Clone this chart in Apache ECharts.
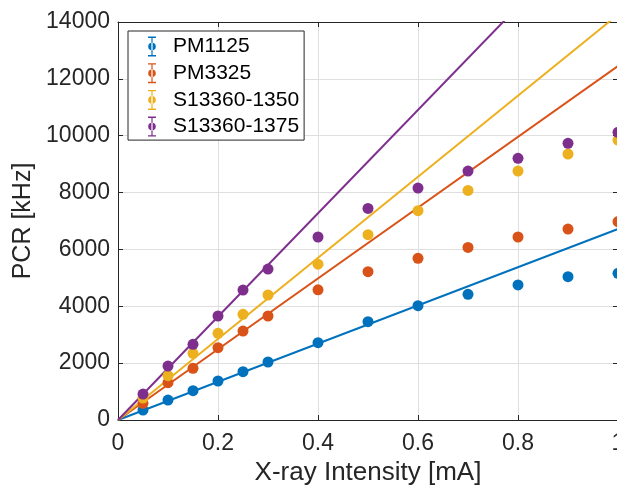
<!DOCTYPE html>
<html lang="en">
<head>
    <meta charset="UTF-8">
    <title>PCR vs X-ray Intensity</title>
    <style type="text/css">
        body{margin:0;background:#fff;}
        #main{width:617px;height:488px;}
    </style>
</head>
<body>
<div id="main"></div>
<script src="https://cdn.jsdelivr.net/npm/echarts@6/dist/echarts.min.js"></script>
<script>
    // x-ray tube current [mA]
    var intensity = [0.05, 0.1, 0.15, 0.2, 0.25, 0.3, 0.4, 0.5, 0.6, 0.7, 0.8, 0.9, 1.0];

    var names = ['PM1125', 'PM3325', 'S13360-1350', 'S13360-1375'];
    var colors = ['#0072BD', '#D95319', '#EDB120', '#7E2F8E'];

    // measured PCR [kHz]
    var pm1125 = [352, 703, 1031, 1372, 1700, 2040, 2720, 3460, 4020, 4420, 4750, 5040, 5160];
    var pm3325 = [586, 1313, 1817, 2544, 3130, 3658, 4580, 5217, 5686, 6072, 6437, 6718, 6975];
    var s1350 = [770, 1558, 2345, 3048, 3716, 4397, 5480, 6518, 7362, 8077, 8758, 9356, 9848];
    var s1375 = [914, 1899, 2662, 3658, 4572, 5311, 6437, 7444, 8160, 8758, 9204, 9732, 10118];

    // linear fit: value at 0 mA and at 1 mA
    var fitX = [0, 1];
    var fit1125 = [0, 6720];
    var fit3325 = [0, 12450];
    var fit1350 = [0, 14260];
    var fit1375 = [0, 18180];

    var xTicks = [0, 0.2, 0.4, 0.6, 0.8, 1];
    var yTicks = [0, 2000, 4000, 6000, 8000, 10000, 12000, 14000];

    var measured = [pm1125, pm3325, s1350, s1375];
    var fits = [fit1125, fit3325, fit1350, fit1375];

    // legend icon: error bar with a dot
    var errIcon = 'path://M0 0L8 0L8 1.4L4.6 1.4L4.6 18.6L8 18.6L8 20L0 20L0 18.6L3.4 18.6L3.4 1.4L0 1.4Z' +
        'M0.2 10A3.8 3.8 0 1 0 7.8 10A3.8 3.8 0 1 0 0.2 10Z';

    function pairs(xs, ys) {
        var res = [];
        for (var i = 0; i < xs.length; i++) {
            res.push([xs[i], ys[i]]);
        }
        return res;
    }

    var txt = '#262626';
    var font = 'Liberation Sans, Arial, Helvetica, sans-serif';

    var series = [];
    for (var k = 0; k < names.length; k++) {
        series.push({
            name: 'fit ' + names[k],
            type: 'line',
            data: pairs(fitX, fits[k]),
            symbol: 'none',
            clip: true,
            silent: true,
            lineStyle: {color: colors[k], width: 2},
            z: 2
        });
    }
    for (var k = 0; k < names.length; k++) {
        series.push({
            name: names[k],
            type: 'scatter',
            data: pairs(intensity, measured[k]),
            symbol: 'circle',
            symbolSize: 11,
            itemStyle: {color: colors[k], opacity: 1},
            z: 3
        });
    }

    var myChart = echarts.init(document.getElementById('main'));

    var option = {
        animation: false,
        backgroundColor: '#fff',
        grid: {left: 118, right: -1, top: 22, bottom: 68, outerBoundsMode: 'none', containLabel: false},
        legend: {
            data: names,
            orient: 'vertical',
            left: 128,
            top: 31,
            padding: [5, 5, 3, 20],
            itemWidth: 8,
            itemHeight: 20,
            itemGap: 5.7,
            icon: errIcon,
            backgroundColor: '#fff',
            borderColor: txt,
            borderWidth: 1,
            borderRadius: 0,
            formatter: '{t|{name}}',
            textStyle: {
                color: '#000', fontSize: 21, fontFamily: font,
                rich: {t: {color: '#000', fontSize: 21, fontFamily: font, padding: [0, 0, 0, 12]}}
            }
        },
        xAxis: [{
            type: 'value',
            min: xTicks[0],
            max: xTicks[xTicks.length - 1],
            interval: 0.2,
            name: 'X-ray Intensity [mA]',
            nameLocation: 'middle',
            nameGap: 40,
            nameTextStyle: {color: txt, fontSize: 26, fontFamily: font},
            axisLine: {show: true, onZero: false, lineStyle: {color: txt, width: 1}},
            axisTick: {show: true, inside: true, length: 5, lineStyle: {color: txt}},
            axisLabel: {color: txt, fontSize: 23, fontFamily: font, margin: 12,
                formatter: function (v) { return String(+v.toFixed(1)); }},
            splitLine: {show: true, lineStyle: {color: '#dfdfdf', width: 1}}
        }, {
            type: 'value',
            position: 'top',
            min: xTicks[0],
            max: xTicks[xTicks.length - 1],
            interval: 0.2,
            axisLine: {show: true, onZero: false, lineStyle: {color: txt, width: 1}},
            axisTick: {show: true, inside: true, length: 5, lineStyle: {color: txt}},
            axisLabel: {show: false},
            splitLine: {show: false}
        }],
        yAxis: [{
            type: 'value',
            min: yTicks[0],
            max: yTicks[yTicks.length - 1],
            interval: 2000,
            name: 'PCR [kHz]',
            nameLocation: 'middle',
            nameGap: 72,
            nameTextStyle: {color: txt, fontSize: 25, fontFamily: font},
            axisLine: {show: true, onZero: false, lineStyle: {color: txt, width: 1}},
            axisTick: {show: true, inside: true, length: 5, lineStyle: {color: txt}},
            axisLabel: {color: txt, fontSize: 23, fontFamily: font, margin: 8,
                formatter: function (v) { return String(v); }},
            splitLine: {show: true, lineStyle: {color: '#dfdfdf', width: 1}}
        }, {
            type: 'value',
            position: 'right',
            min: yTicks[0],
            max: yTicks[yTicks.length - 1],
            interval: 2000,
            axisLine: {show: true, onZero: false, lineStyle: {color: txt, width: 1}},
            axisTick: {show: true, inside: true, length: 5, lineStyle: {color: txt}},
            axisLabel: {show: false},
            splitLine: {show: false}
        }],
        series: series
    };

    myChart.setOption(option);
</script>
</body>
</html>
